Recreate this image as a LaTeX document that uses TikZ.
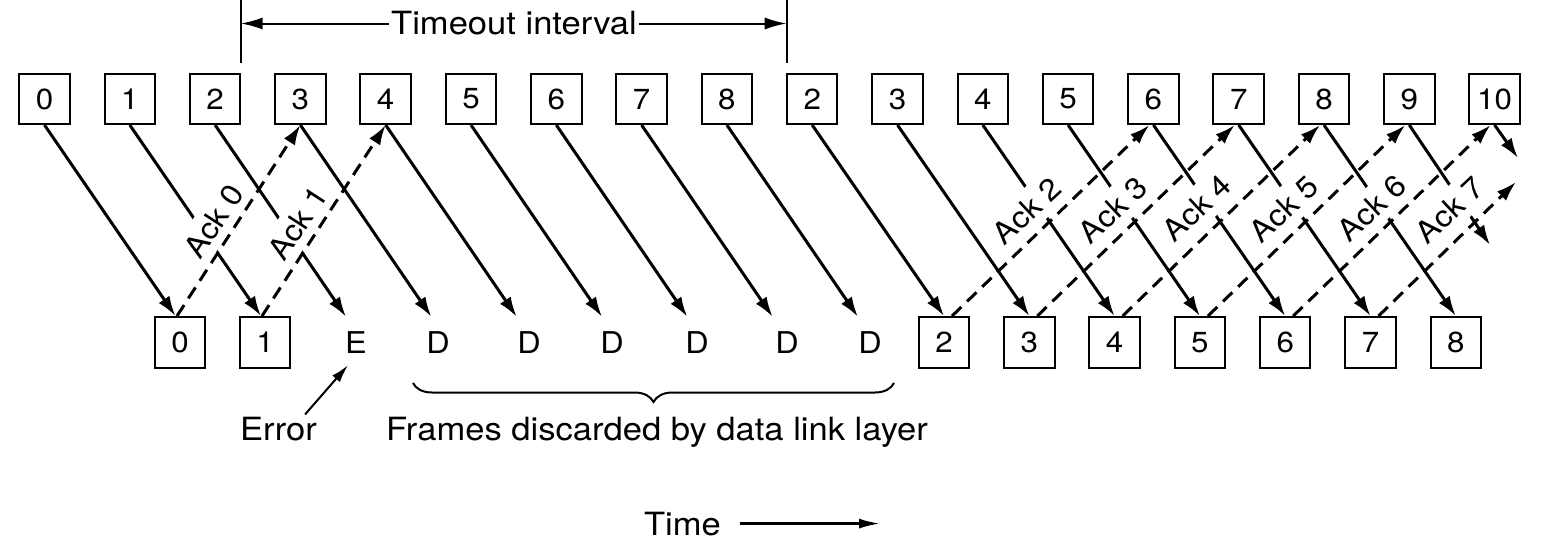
\documentclass[tikz,border=0pt]{standalone}
\usepackage{fontspec}
\setmainfont{TeX Gyre Heros}[FakeStretch=1.08]
\usetikzlibrary{arrows.meta,decorations.pathreplacing}
\begin{document}
\begin{tikzpicture}[x=1pt,y=-1pt,
  box/.style={draw,line width=2pt,minimum width=50.5pt,minimum height=50pt,inner sep=0pt,font=\fontsize{29}{29}\selectfont},
  bbox/.style={box,minimum height=51pt},
  rx/.style={inner sep=0pt,minimum height=51pt,font=\fontsize{30}{30}\selectfont},
  frame/.style={line width=3pt,-{Latex[length=20pt,width=13pt]}},
  ack/.style={frame,dash pattern=on 13pt off 8pt},
  acklbl/.style={fill=white,inner xsep=3pt,inner ysep=7.5pt,font=\fontsize{30}{30}\selectfont},
  lbl/.style={font=\fontsize{32}{32}\selectfont,inner sep=2pt},
  thinl/.style={line width=2pt},
]
\useasboundingbox (0,0) rectangle (1542,555);
\fill[white] (0,0) rectangle (1542,555);

% sender frames (top row)
\foreach \i/\l in {0/0,1/1,2/2,3/3,4/4,5/5,6/6,7/7,8/8,9/2,10/3,11/4,12/5,13/6,14/7,15/8,16/9,17/10}
  \node[box] (t\i) at ({44.5+85.3*\i},99) {\l};

% receiver (bottom row)
\node[bbox] (b0) at (180,342.5) {0};
\node[bbox] (b1) at (265,342.5) {1};
\node[rx] (e) at (356,342.5) {E};
\foreach \k/\x in {1/438,2/529,3/612,4/697,5/787,6/870}
  \node[rx] (d\k) at (\x,342.5) {D};
\foreach \k in {2,...,8}
  \node[bbox] (b\k) at ({944+85.3*(\k-2)},342.5) {\k};

% free ends at the right border
\coordinate (f16) at (1490,245);
\coordinate (f17) at (1518,158);
\coordinate (a7) at (1516,182);

% frame transmissions
\draw[frame] (t0.south) -- ([xshift=-4.5pt]b0.north);
\draw[frame] (t1.south) -- ([xshift=-4pt]b1.north);
\draw[frame] (t2.south) -- ([xshift=-10pt]e.north);
\foreach \i/\k/\s in {3/1/-6.6,4/2/-12.3,5/3/-10,6/4/-9.7,7/5/-14.4,8/6/-12.1}
  \draw[frame] (t\i.south) -- ([xshift=\s pt]d\k.north);
\foreach \i in {9,...,15} {
  \pgfmathtruncatemacro\k{\i-7}
  \draw[frame] (t\i.south) -- (b\k.north);
}
\draw[frame] (t16.south) -- (f16);
\draw[frame] (t17.south) -- (f17);

% ack labels (white boxes interrupt the frame lines)
\node[acklbl,rotate=57] (l0) at (214,221) {Ack 0};
\node[acklbl,rotate=57] (l1) at (298,223) {Ack 1};
\node[acklbl,rotate=43] (l2) at (1027,211) {Ack 2};
\node[acklbl,rotate=43] (l3) at (1113,210) {Ack 3};
\node[acklbl,rotate=43] (l4) at (1197,208) {Ack 4};
\node[acklbl,rotate=43] (l5) at (1284,209) {Ack 5};
\node[acklbl,rotate=43] (l6) at (1372,208) {Ack 6};
\node[acklbl,rotate=43] (l7) at (1450,210) {Ack 7};

% acknowledgements
\draw[ack] ([xshift=-3pt]b0.north) -- (t3.south);
\draw[ack] ([xshift=-3pt]b1.north) -- (t4.south);
\foreach \k in {2,...,6} {
  \pgfmathtruncatemacro\j{\k+11}
  \draw[ack] ([xshift=8pt]b\k.north) -- ([xshift=-4pt]t\j.south);
}
\draw[ack] ([xshift=8pt]b7.north) -- (a7);

% timeout interval
\coordinate (vl0) at (240.6,0);
\coordinate (vl1) at (240.6,63);
\coordinate (vr0) at (786.7,0);
\coordinate (vr1) at (786.7,63);
\draw[thinl] (vl0) -- (vl1);
\draw[thinl] (vr0) -- (vr1);
\node[lbl] (tmo) at (514,23.5) {Timeout interval};
\draw[thinl,-{Latex[length=22pt,width=12pt]}] (tmo.west) -- (tmo.west -| vl0);
\draw[thinl,-{Latex[length=22pt,width=12pt]}] (tmo.east) -- (tmo.east -| vr0);

% error
\node[lbl,anchor=base] (err) at (278.5,440) {Error};
\draw[thinl,-{Latex[length=18pt,width=10pt]}] ([xshift=-14pt]err.north east) -- ([xshift=-8pt,yshift=3pt]e.south);

% discarded frames
\draw[thinl,decorate,decoration={brace,mirror,amplitude=19pt}] (413,383) -- (894,383);
\node[lbl,anchor=base] (fr) at (657,440) {Frames discarded by data link layer};

% time
\node[lbl,anchor=base] (time) at (682.5,535) {Time};
\coordinate (tend) at (881,524);
\draw[line width=3pt,-{Latex[length=22pt,width=10pt]}] ([xshift=17pt]time.east) -- (time.east -| tend);
\end{tikzpicture}
\end{document}
